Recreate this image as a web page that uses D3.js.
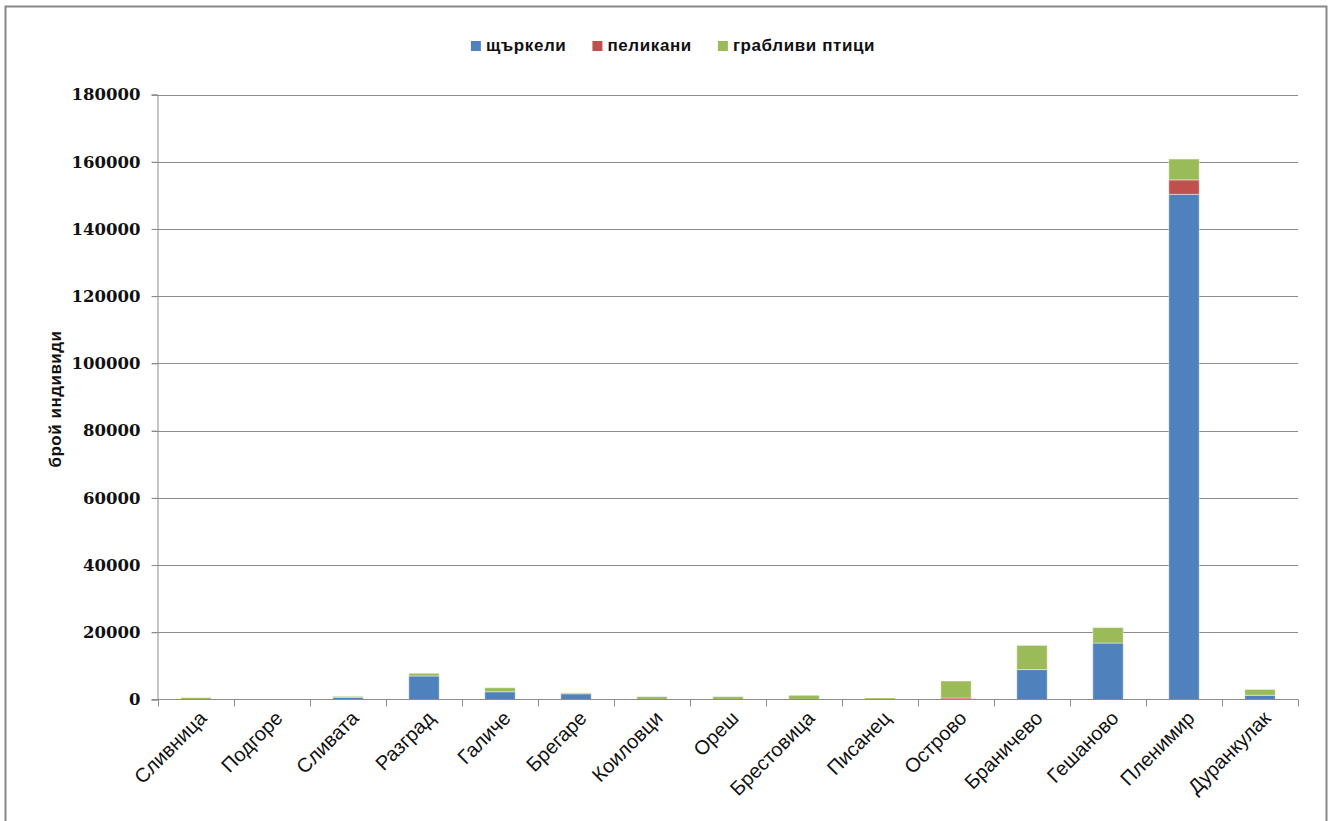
<!DOCTYPE html>
<html>
<head>
<meta charset="utf-8">
<script src="https://cdn.jsdelivr.net/npm/d3@7"></script>
<style>
  html, body { margin: 0; padding: 0; background: #fff; }
  svg { display: block; }
</style>
</head>
<body>
<svg id="chart" width="1328" height="821"></svg>
<script>
// Observation sites along the migration route
const sites = ["Сливница", "Подгоре", "Сливата", "Разград", "Галиче", "Брегаре", "Коиловци",
  "Ореш", "Брестовица", "Писанец", "Острово", "Браничево", "Гешаново", "Пленимир", "Дуранкулак"];

// Counted individuals per group at each site
const storks   = [0, 0, 650, 7000, 2300, 1700, 0, 0, 0, 0, 0, 8900, 16800, 150300, 1250];
const pelicans = [0, 0, 0, 0, 0, 0, 0, 0, 0, 0, 450, 0, 0, 4300, 0];
const raptors  = [550, 0, 300, 800, 1200, 300, 850, 850, 1250, 450, 5050, 7200, 4600, 6200, 1750];

const seriesNames = ["щъркели", "пеликани", "грабливи птици"];
const seriesColors = ["#4F81BD", "#C0504D", "#9BBB59"];
const yTicks = [0, 20000, 40000, 60000, 80000, 100000, 120000, 140000, 160000, 180000];
const yTitle = "брой индивиди";

const svg = d3.select("#chart");
const plot = { left: 158, right: 1298, top: 94.5, bottom: 699.5 };

// Outer chart frame
svg.append("rect")
  .attr("x", 5.5).attr("y", 6.5)
  .attr("width", 1321).attr("height", 830)
  .attr("fill", "#fff")
  .attr("stroke", "#878787")
  .attr("stroke-width", 2);

const x = d3.scaleBand()
  .domain(sites)
  .range([plot.left, plot.right])
  .paddingInner(0.6)
  .paddingOuter(0.3);

const y = d3.scaleLinear()
  .domain([0, 180000])
  .range([plot.bottom, plot.top]);

// Horizontal gridlines
svg.append("g")
  .selectAll("line")
  .data(yTicks.filter(d => d > 0))
  .join("line")
  .attr("x1", plot.left - 6).attr("x2", plot.right)
  .attr("y1", d => Math.round(y(d)) + 0.5).attr("y2", d => Math.round(y(d)) + 0.5)
  .attr("stroke", "#8c8c8c")
  .attr("stroke-width", 1);

// Y axis
const yAxis = svg.append("g")
  .attr("transform", `translate(${plot.left - 0.5},0)`)
  .call(d3.axisLeft(y).tickValues(yTicks).tickSize(6).tickPadding(11).tickFormat(d3.format("d")));
yAxis.select(".domain").attr("stroke", "#8c8c8c");
yAxis.selectAll(".tick line").attr("stroke", "#8c8c8c");
yAxis.selectAll(".tick text")
  .attr("font-family", "'DejaVu Serif', serif")
  .attr("font-weight", "bold")
  .attr("font-size", 16.5)
  .attr("fill", "#111");

// Stacked bars
const rows = sites.map((s, i) => ({ site: s, 0: storks[i], 1: pelicans[i], 2: raptors[i] }));
const stacked = d3.stack().keys([0, 1, 2])(rows);

svg.append("g")
  .selectAll("g")
  .data(stacked)
  .join("g")
  .attr("fill", (d, i) => seriesColors[i])
  .selectAll("rect")
  .data(d => d.filter(v => v[1] - v[0] > 0))
  .join("rect")
  .attr("x", d => x(d.data.site))
  .attr("width", x.bandwidth())
  .attr("y", d => y(d[1]))
  .attr("height", d => y(d[0]) - y(d[1]))
  .attr("stroke", "rgba(255,255,255,0.45)")
  .attr("stroke-width", 1);

// X axis with tick marks between categories
const step = x.step();
const bounds = d3.range(sites.length + 1).map(i => plot.left + i * step);
const xAxisG = svg.append("g");
xAxisG.append("line")
  .attr("x1", plot.left - 6).attr("x2", plot.right)
  .attr("y1", plot.bottom).attr("y2", plot.bottom)
  .attr("stroke", "#8c8c8c");
xAxisG.selectAll("line.tk")
  .data(bounds)
  .join("line")
  .attr("class", "tk")
  .attr("x1", d => Math.round(d) + 0.5).attr("x2", d => Math.round(d) + 0.5)
  .attr("y1", plot.bottom).attr("y2", plot.bottom + 7)
  .attr("stroke", "#8c8c8c");

xAxisG.selectAll("text")
  .data(sites)
  .join("text")
  .attr("transform", d => `translate(${x(d) + x.bandwidth() / 2 + 7},${plot.bottom + 15}) rotate(-45)`)
  .attr("text-anchor", "end")
  .attr("dy", "0.35em")
  .attr("font-family", "'Liberation Sans', Arial, sans-serif")
  .attr("font-size", 20)
  .attr("fill", "#111")
  .text(d => d);

// Y axis title
svg.append("text")
  .attr("transform", `translate(61,${(plot.top + plot.bottom) / 2 + 2}) rotate(-90)`)
  .attr("text-anchor", "middle")
  .attr("font-family", "'Liberation Sans', Arial, sans-serif")
  .attr("font-weight", "bold")
  .attr("font-size", 17)
  .attr("letter-spacing", 0.5)
  .attr("fill", "#111")
  .text(yTitle);

// Legend centred above the plot
const legend = svg.append("g");
const items = legend.selectAll("g")
  .data(seriesNames)
  .join("g");
items.append("rect")
  .attr("width", 10).attr("height", 10)
  .attr("y", -10)
  .attr("fill", (d, i) => seriesColors[i]);
items.append("text")
  .attr("x", 15)
  .attr("font-family", "'Liberation Sans', Arial, sans-serif")
  .attr("font-weight", "bold")
  .attr("font-size", 17)
  .attr("letter-spacing", 0.6)
  .attr("fill", "#111")
  .text(d => d);
let cursor = 0;
items.each(function () {
  const g = d3.select(this);
  g.attr("transform", `translate(${cursor},0)`);
  cursor += 15 + g.select("text").node().getComputedTextLength() + 26;
});
const legendWidth = cursor - 26;
legend.attr("transform", `translate(${673 - legendWidth / 2},51)`);
</script>
</body>
</html>
